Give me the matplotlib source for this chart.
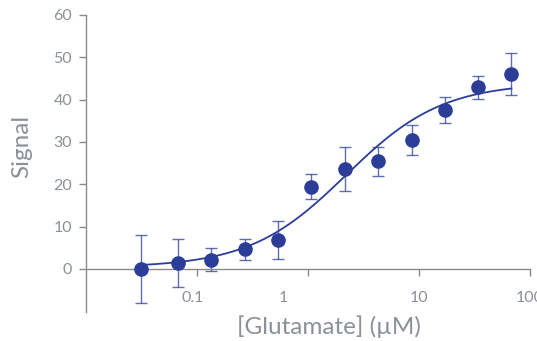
import numpy as np
import matplotlib
matplotlib.use("Agg")
import matplotlib.pyplot as plt
import matplotlib.transforms as mtrans

# Data
conc = [0.031, 0.068, 0.135, 0.27, 0.54, 1.07, 2.15, 4.3, 8.6, 17.1, 34, 68]
signal = [0.0, 1.3, 2.2, 4.6, 6.9, 19.4, 23.6, 25.4, 30.4, 37.5, 42.9, 46.0]
err = [8.0, 5.7, 2.7, 2.5, 4.5, 3.0, 5.3, 3.4, 3.5, 3.0, 2.7, 5.0]

# Fitted Hill curve parameters (read from the drawn fit)
fit_bottom = 0.3
fit_top = 44.0
fit_ec50 = 2.2
fit_hill = 1.0

xticks = [0.1, 1, 10, 100]
xticklabels = ["0.1", "1", "10", "100"]
yticks = [0, 10, 20, 30, 40, 50, 60]

blue = "#2b3d97"
gray = "#8c9099"
axis_gray = "#8a8a8a"

plt.rcParams["font.family"] = ["Lato", "DejaVu Sans"]

fig = plt.figure(figsize=(5.37, 3.41), dpi=100)
ax = fig.add_axes([86/537, 1-312/341, (530-86)/537, (312-15)/341])

xs = np.logspace(np.log10(conc[0]), np.log10(conc[-1]), 300)
ys = fit_bottom + (fit_top - fit_bottom) / (1 + (fit_ec50 / xs) ** fit_hill)
ax.plot(xs, ys, color=blue, lw=1.3, zorder=3)

ax.errorbar(conc, signal, yerr=err, fmt="none", ecolor=blue, elinewidth=1.0,
            capsize=4, capthick=1.0, alpha=0.75, zorder=2)
ax.plot(conc, signal, "o", color=blue, ms=9.5, zorder=4)

ax.set_xscale("log")
ax.set_xlim(0.01, 100)
ax.set_ylim(-10.2, 60)

for s in ["top", "right"]:
    ax.spines[s].set_visible(False)
ax.spines["bottom"].set_position(("data", 0))
for s in ["left", "bottom"]:
    ax.spines[s].set_color(axis_gray)
    ax.spines[s].set_linewidth(1.0)
ax.spines["left"].set_bounds(-10.2, 60)

ax.set_xticks(xticks)
ax.set_xticklabels(xticklabels)
ax.xaxis.set_minor_locator(matplotlib.ticker.NullLocator())
ax.set_yticks(yticks)
ax.tick_params(axis="both", colors=axis_gray, labelcolor=gray, labelsize=11.5,
               length=5, width=1.0)
ax.tick_params(axis="x", pad=11)
ax.tick_params(axis="y", pad=5)

# shift the "1" label left as in the reference
labs = ax.get_xticklabels()
for lab in labs:
    if lab.get_text() == "1":
        lab.set_transform(lab.get_transform() + mtrans.ScaledTranslation(-25/100, 0, fig.dpi_scale_trans))
    if lab.get_text() == "0.1":
        lab.set_transform(lab.get_transform() + mtrans.ScaledTranslation(-4/100, 0, fig.dpi_scale_trans))

fig.text(329/537, 1-327/341, "[Glutamate] (\u00b5M)", ha="center", va="center",
         fontsize=17.5, color=gray)
fig.text(22/537, 1-146/341, "Signal", ha="center", va="center", rotation=90,
         fontsize=17.5, color=gray)

fig.savefig("out.png", dpi=100)
